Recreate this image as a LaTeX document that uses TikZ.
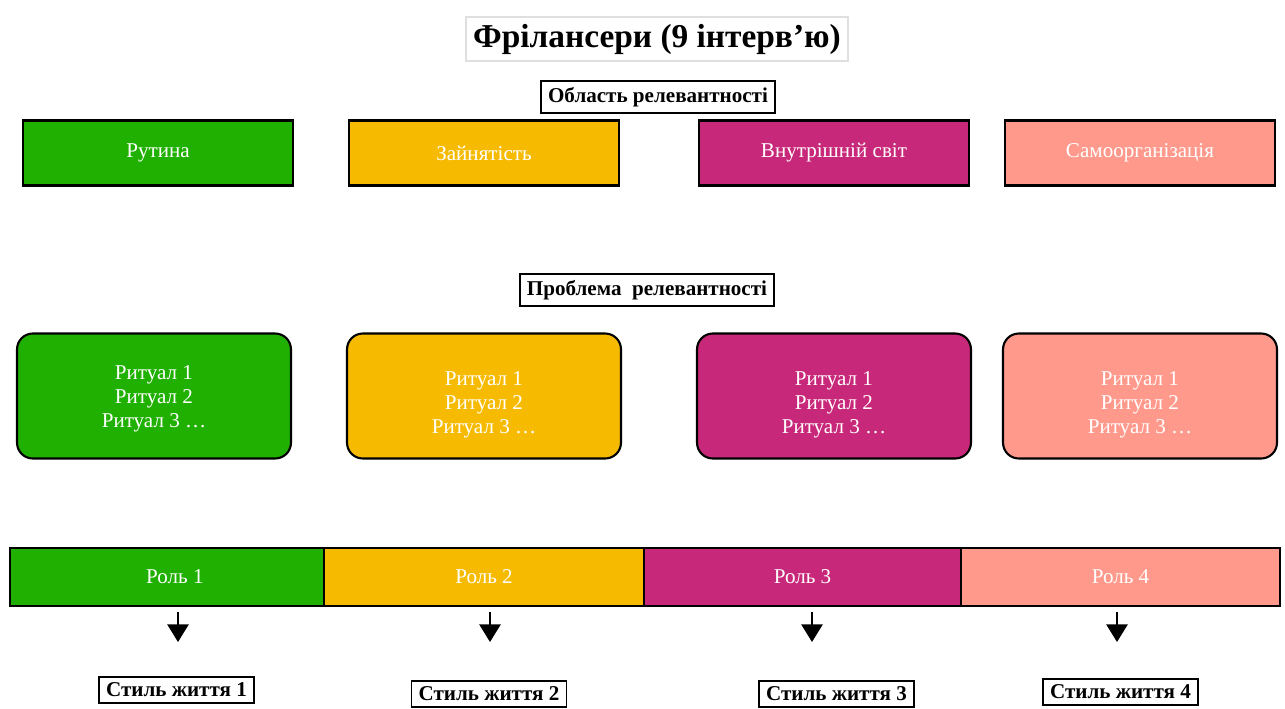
\documentclass[tikz,border=0pt]{standalone}
\usepackage{fontspec}
\setmainfont{Liberation Serif}
\usetikzlibrary{positioning, arrows.meta}

\definecolor{grn}{RGB}{31,176,1}
\definecolor{ylw}{RGB}{246,187,0}
\definecolor{mgt}{RGB}{200,40,121}
\definecolor{pnk}{RGB}{255,153,140}

\begin{document}
\begin{tikzpicture}[
  x=0.02cm, y=-0.02cm,
  areabox/.style={rectangle, draw=black, line width=1.2pt, text=white, minimum width=5.4cm, minimum height=1.3cm, font=\fontsize{12}{14}\selectfont},
  ritualbox/.style={rectangle, draw=black, line width=1.2pt, rounded corners=9pt, minimum width=5.48cm, minimum height=2.5cm},
  rittext/.style={text=white, align=center, font=\fontsize{12}{13.6}\selectfont},
  rolebox/.style={rectangle, draw=black, line width=1.2pt, text=white, minimum height=1.16cm, inner sep=0pt, font=\fontsize{12}{14}\selectfont},
  tagbox/.style={rectangle, draw=black, line width=1pt, fill=white, inner xsep=4pt, inner ysep=3.5pt, font=\bfseries\fontsize{12}{14}\selectfont},
  down/.style={-{Triangle[width=12pt, length=10pt]}, line width=1.2pt, shorten <=3pt}
]
\useasboundingbox (0,0) rectangle (1285,708);

% ======================
% TITLE
% ======================
\node[draw=gray!25, line width=1pt, inner sep=4pt, font=\bfseries\fontsize{19}{22}\selectfont] (title) at (657,39) {Фрілансери (9 інтерв’ю)};

% ======================
% AREAS
% ======================
\node[tagbox] (area) at (658,97) {Область релевантності};

\node[areabox, fill=grn] (routine) at (158,153) {Рутина};
\node[areabox, fill=ylw] (employment) at (484,153) {Зайнятість};
\node[areabox, fill=mgt] (inner) at (834,153) {Внутрішній світ};
\node[areabox, fill=pnk] (selforg) at (1140,153) {Самоорганізація};

% ======================
% RITUALS
% ======================
\node[tagbox] (problem) at (647,290) {Проблема\ \ релевантності};

\node[ritualbox, fill=grn] (rit1) at (154,396) {};
\node[ritualbox, fill=ylw] (rit2) at (484,396) {};
\node[ritualbox, fill=mgt] (rit3) at (834,396) {};
\node[ritualbox, fill=pnk] (rit4) at (1140,396) {};

\node[rittext] (ritlist1) at ([yshift=-1.5pt]rit1) {Ритуал 1\\ Ритуал 2\\ Ритуал 3 …};
\node[rittext] (ritlist2) at ([yshift=-5pt]rit2) {Ритуал 1\\ Ритуал 2\\ Ритуал 3 …};
\node[rittext] (ritlist3) at ([yshift=-5pt]rit3) {Ритуал 1\\ Ритуал 2\\ Ритуал 3 …};
\node[rittext] (ritlist4) at ([yshift=-5pt]rit4) {Ритуал 1\\ Ритуал 2\\ Ритуал 3 …};

% ======================
% ROLES
% ======================
\node[rolebox, fill=grn, minimum width=6.28cm] (role1) at (167,577) {\hspace{9pt}Роль 1};
\node[rolebox, fill=ylw, minimum width=6.4cm] (role2) at (484,577) {Роль 2};
\node[rolebox, fill=mgt, minimum width=6.34cm] (role3) at (802.5,577) {Роль 3};
\node[rolebox, fill=pnk, minimum width=6.38cm] (role4) at (1120.5,577) {Роль 4};

% ======================
% LIFESTYLES
% ======================
\node[tagbox] (life1) at (176.5,690) {Стиль життя 1};
\node[tagbox] (life2) at (489,694) {Стиль життя 2};
\node[tagbox] (life3) at (836.5,694) {Стиль життя 3};
\node[tagbox] (life4) at (1120.5,692) {Стиль життя 4};

\coordinate (tip1) at (178,642);
\coordinate (tip2) at (490,642);
\coordinate (tip3) at (812,642);
\coordinate (tip4) at (1117,642);

\draw[down] (role1.south -| tip1) -- (tip1);
\draw[down] (role2.south -| tip2) -- (tip2);
\draw[down] (role3.south -| tip3) -- (tip3);
\draw[down] (role4.south -| tip4) -- (tip4);

\end{tikzpicture}
\end{document}
